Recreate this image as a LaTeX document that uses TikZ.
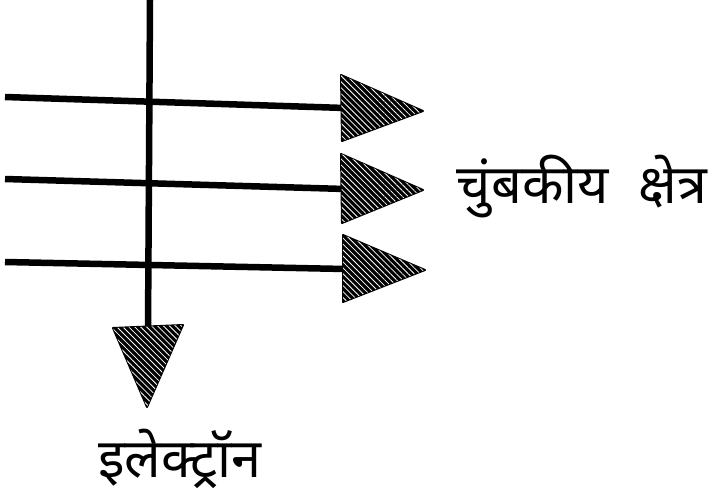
\documentclass[tikz,border=0pt]{standalone}
\usepackage{fontspec}
\newfontfamily\deva[Script=Devanagari]{Noto Sans}
\usetikzlibrary{patterns.meta}
\tikzset{
  shaft/.style={line width=6.5pt, black},
  headfill/.style={fill=black, draw=black, line width=2pt, line join=round},
  hatch/.style={pattern={Lines[angle=-45,distance=4.2pt,line width=0.8pt]}, pattern color=white},
  lbl/.style={font=\deva, inner sep=0pt, anchor=base}
}
\begin{document}
\begin{tikzpicture}[x=1pt,y=-1pt]
\useasboundingbox (0,0) rectangle (714,501);
% coordinates
\coordinate (s1) at (5,97);   \coordinate (e1) at (345,108);
\coordinate (s2) at (5,179);  \coordinate (e2) at (345,189);
\coordinate (s3) at (5,262);  \coordinate (e3) at (345,269);
\coordinate (sv) at (150,0);  \coordinate (ev) at (148,330);
% shafts
\draw[shaft] (s1) -- (e1);
\draw[shaft] (s2) -- (e2);
\draw[shaft] (s3) -- (e3);
\draw[shaft] (sv) -- (ev);
% arrowheads
\foreach \bt/\bb/\tp in {{341,75}/{342,141}/{423,111},{341,154}/{342,223}/{423,190},{343,235}/{343,302}/{425,270},{113,328}/{183,325}/{147,407}}{
  \path[headfill] (\bt) -- (\tp) -- (\bb) -- cycle;
  \path[hatch] (\bt) -- (\tp) -- (\bb) -- cycle;
}
% labels
\node[lbl, font=\deva\fontsize{54}{60}\selectfont] (field) at (582,203) {चुंबकीय\hspace{0.55em}क्षेत्र};
\node[lbl, font=\deva\fontsize{54}{60}\selectfont] (electron) at (180,477) {इलेक्ट्रॉन};
\end{tikzpicture}
\end{document}
